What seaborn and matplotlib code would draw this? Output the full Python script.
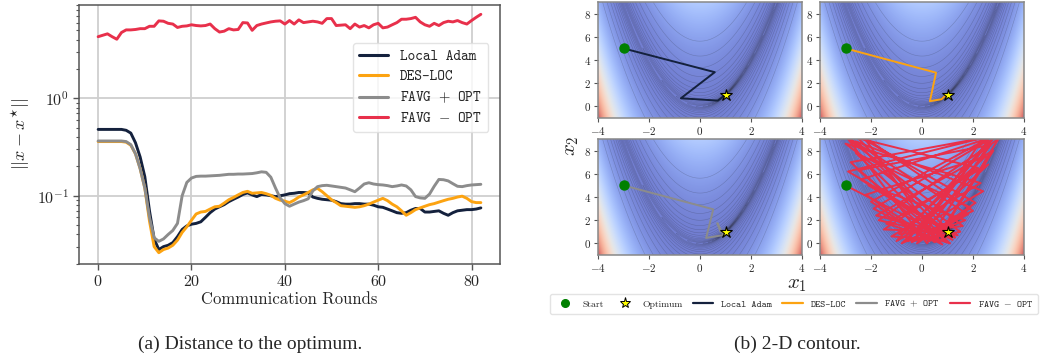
import numpy as np
import pandas as pd
import matplotlib
matplotlib.use("Agg")
import matplotlib.pyplot as plt
import seaborn as sns
from matplotlib.lines import Line2D
from matplotlib.ticker import NullFormatter

# ---------------- data: distance to optimum ----------------
rounds = list(range(83))
local_adam = [0.48, 0.48, 0.48, 0.48, 0.48, 0.48, 0.47, 0.44, 0.35, 0.25,
              0.157, 0.07, 0.036, 0.028, 0.030, 0.031, 0.033, 0.038, 0.045, 0.049,
              0.051, 0.052, 0.054, 0.060, 0.067, 0.073, 0.077, 0.081, 0.087, 0.092,
              0.097, 0.103, 0.107, 0.102, 0.098, 0.103, 0.102, 0.100, 0.098, 0.100,
              0.102, 0.105, 0.106, 0.108, 0.108, 0.107, 0.097, 0.094, 0.092, 0.091,
              0.090, 0.087, 0.083, 0.082, 0.082, 0.083, 0.083, 0.082, 0.082, 0.080,
              0.077, 0.076, 0.073, 0.070, 0.067, 0.066, 0.067, 0.071, 0.074, 0.074,
              0.068, 0.068, 0.069, 0.070, 0.066, 0.063, 0.067, 0.070, 0.071, 0.072,
              0.072, 0.073, 0.075]
des_loc = [0.36, 0.36, 0.36, 0.36, 0.36, 0.36, 0.355, 0.33, 0.27, 0.19,
           0.12, 0.055, 0.030, 0.026, 0.028, 0.029, 0.031, 0.035, 0.042, 0.048,
           0.056, 0.065, 0.068, 0.069, 0.073, 0.077, 0.078, 0.084, 0.091, 0.096,
           0.102, 0.108, 0.111, 0.106, 0.107, 0.108, 0.105, 0.101, 0.094, 0.090,
           0.088, 0.085, 0.090, 0.097, 0.102, 0.108, 0.115, 0.119, 0.110, 0.100,
           0.091, 0.085, 0.079, 0.078, 0.077, 0.076, 0.077, 0.079, 0.082, 0.086,
           0.090, 0.094, 0.089, 0.082, 0.077, 0.070, 0.063, 0.067, 0.072, 0.075,
           0.078, 0.081, 0.083, 0.086, 0.089, 0.092, 0.094, 0.097, 0.099, 0.094,
           0.087, 0.085, 0.085]
favg_opt = [0.365, 0.365, 0.365, 0.365, 0.365, 0.365, 0.36, 0.335, 0.27, 0.19,
            0.12, 0.06, 0.037, 0.034, 0.036, 0.040, 0.044, 0.052, 0.100, 0.137,
            0.152, 0.158, 0.159, 0.159, 0.160, 0.161, 0.162, 0.164, 0.166, 0.166,
            0.167, 0.167, 0.168, 0.169, 0.172, 0.176, 0.174, 0.155, 0.120, 0.095,
            0.083, 0.078, 0.082, 0.086, 0.089, 0.093, 0.112, 0.124, 0.127, 0.128,
            0.126, 0.124, 0.122, 0.120, 0.115, 0.110, 0.120, 0.132, 0.136, 0.132,
            0.130, 0.129, 0.127, 0.124, 0.126, 0.129, 0.126, 0.115, 0.098, 0.095,
            0.094, 0.104, 0.125, 0.147, 0.146, 0.142, 0.133, 0.125, 0.124, 0.127,
            0.129, 0.130, 0.131]
favg_no_opt = [4.3, 4.45, 4.6, 4.3, 4.05, 4.75, 5.05, 5.05, 5.1, 5.2,
               5.2, 5.5, 5.5, 6.25, 6.2, 5.9, 5.8, 5.35, 5.5, 5.55,
               5.7, 5.6, 5.55, 5.6, 5.8, 5.2, 4.8, 4.9, 5.2, 5.05,
               5.1, 6.0, 5.95, 5.0, 5.6, 5.8, 5.95, 6.1, 6.2, 6.25,
               5.8, 6.3, 5.8, 6.4, 6.0, 6.1, 6.2, 6.1, 5.9, 6.6,
               6.6, 5.6, 5.65, 5.7, 5.2, 5.8, 5.4, 5.6, 5.3, 5.7,
               5.9, 5.3, 5.4, 5.7, 6.0, 6.5, 6.5, 6.6, 6.8, 6.1,
               5.7, 5.5, 5.9, 5.6, 6.0, 6.2, 6.1, 6.3, 6.0, 5.8,
               6.3, 6.8, 7.3]

series_names = ["Local Adam", "DES-LOC", "FAVG $+$ OPT", "FAVG $-$ OPT"]
series_colors = ["#14213d", "#fca311", "#8c8c8c", "#e8304b"]

# ---------------- data: 2-D trajectories ----------------
start_pt = [-3.0, 5.0]
optimum_pt = [1.0, 1.0]
traj_local_x = [-3.0, 0.58, -0.75, 0.70, 1.0]
traj_local_y = [5.0, 2.95, 0.70, 0.50, 1.0]
traj_des_x = [-3.0, 0.55, 0.31, 0.77, 0.90, 1.0]
traj_des_y = [5.0, 2.91, 0.45, 0.62, 0.90, 1.0]
traj_favg_x = [-3.0, 0.52, 0.24, 0.92, 0.68, 0.80, 1.0]
traj_favg_y = [5.0, 2.94, 0.47, 0.72, 1.75, 1.0, 1.0]
traj_nofavg_x = [-3.0, 1.2, -2.6, 2.4, -1.0, 2.9, -2.8, 0.8, -1.9, 2.6,
                 -0.4, 1.8, -3.1, 2.2, -1.5, 1.0, -2.4, 2.8, 0.2, -2.9,
                 1.6, -0.9, 2.5, -2.2, 0.5, 3.0, -1.7, 1.3, -2.7, 2.1,
                 -0.2, 2.7, -2.5, 0.9, -1.2, 2.3, -3.0, 1.5, -0.6, 2.9,
                 -2.0, 0.3, 1.9, -2.6, 1.1, -1.4, 2.6, -0.8, 2.0, -2.3,
                 0.6, 2.8, -1.8, 1.4, -2.9, 2.4, -0.3, 1.7, -2.1, 1.0]
traj_nofavg_y = [5.0, 0.3, 8.8, 4.5, 0.2, 9.3, 7.0, -0.1, 3.0, 8.9,
                 0.1, 2.5, 9.4, 6.5, 1.2, 1.0, 5.5, 9.2, 0.0, 9.0,
                 1.5, 0.8, 7.5, 4.2, 0.1, 9.0, 2.0, 0.5, 9.5, 3.5,
                 0.0, 8.5, 6.3, 0.3, 0.6, 5.2, 8.6, 1.0, 0.2, 9.4,
                 3.6, 0.2, 3.1, 7.8, 0.0, 1.7, 6.8, 0.0, 2.8, 9.2,
                 0.4, 8.0, 2.4, 0.7, 6.2, 9.1, 0.3, 2.0, 5.0, 1.0]

# ---------------- style ----------------
sns.set_theme(style="whitegrid")
plt.rcParams.update({
    "font.family": ["cmr10", "DejaVu Serif"],
    "mathtext.fontset": "cm",
    "axes.formatter.use_mathtext": True,
    "axes.edgecolor": "#555555",
    "axes.linewidth": 1.1,
})

fig = plt.figure(figsize=(10.47, 3.58), dpi=100)
W, H = 1047.0, 358.0

def frac_box(x0, y0, x1, y1):
    return [x0 / W, 1 - y1 / H, (x1 - x0) / W, (y1 - y0) / H]

# ---------------- left panel ----------------
ax = fig.add_axes(frac_box(79, 5, 500, 264))
df = pd.DataFrame({
    "round": rounds * 4,
    "dist": local_adam + des_loc + favg_opt + favg_no_opt,
    "method": sum([[n] * len(rounds) for n in series_names], []),
})
sns.lineplot(data=df, x="round", y="dist", hue="method", hue_order=series_names,
             palette=series_colors, lw=2.1, ax=ax, legend=False)
ax.set_yscale("log")
ax.set_ylim(0.0199, 9.1)
ax.set_xlim(-4.1, 86.1)
ax.set_xticks([0, 20, 40, 60, 80])
ax.yaxis.set_minor_formatter(NullFormatter())
ax.grid(True, which="major", color="#cfcfcf", lw=1.3)
ax.grid(False, which="minor")
ax.tick_params(axis="both", which="major", labelsize=11.5, direction="out",
               length=4, width=1, color="#555555", left=True, bottom=True, pad=3)
ax.tick_params(axis="y", which="minor", direction="out", length=2.5, width=0.8,
               color="#555555", left=True)
ax.set_xlabel("Communication Rounds", fontsize=12, labelpad=2)
ax.set_ylabel(r"$||x-x^{\star}||$", fontsize=13, labelpad=4)
handles = [Line2D([], [], color=c, lw=2.2) for c in series_colors]
leg = ax.legend(handles, series_names, loc="upper right", bbox_to_anchor=(0.99, 0.88),
                prop={"family": "cmtt10", "size": 10.5}, frameon=True, handlelength=2.0,
                borderpad=0.45, labelspacing=0.4, handletextpad=0.8)
leg.get_frame().set_edgecolor("#dddddd")

# ---------------- right panels ----------------
gx = np.linspace(-4, 4, 400)
gy = np.linspace(-1, 9, 400)
XX, YY = np.meshgrid(gx, gy)
ZZ = (1 - XX) ** 2 + 100 * (YY - XX ** 2) ** 2
levels = np.logspace(-1, 3.5, 21)

boxes = [frac_box(598, 2, 802, 118), frac_box(820, 2, 1024, 118),
         frac_box(598, 139, 802, 255), frac_box(820, 139, 1024, 255)]
trajs = [(traj_local_x, traj_local_y), (traj_des_x, traj_des_y),
         (traj_favg_x, traj_favg_y), (traj_nofavg_x, traj_nofavg_y)]

for box, (tx, ty), col in zip(boxes, trajs, series_colors):
    a = fig.add_axes(box)
    a.imshow(ZZ, extent=[-4, 4, -1, 9], origin="lower", cmap="coolwarm",
             alpha=0.72, aspect="auto", interpolation="bilinear")
    a.contour(XX, YY, ZZ, levels=levels, colors="k", linewidths=0.4, alpha=0.22)
    sns.lineplot(x=tx, y=ty, sort=False, estimator=None, color=col, lw=1.4, ax=a)
    a.plot([start_pt[0]], [start_pt[1]], "o", color="green", ms=6.5, zorder=5)
    a.plot([optimum_pt[0]], [optimum_pt[1]], "*", mfc="yellow", mec="black",
           mew=0.8, ms=9, zorder=6)
    a.set_xlim(-4, 4)
    a.set_ylim(-1, 9)
    a.set_xticks([-4, -2, 0, 2, 4])
    a.set_yticks([0, 2, 4, 6, 8])
    a.grid(False)
    a.tick_params(labelsize=8, direction="out", length=3, width=0.8, color="#555555",
                  left=True, bottom=True, pad=2)
    for s in a.spines.values():
        s.set_edgecolor("#888888")

fig.text(797 / W, 1 - 285 / H, r"$x_1$", fontsize=15, ha="center", va="center")
fig.text(572 / W, 1 - 146 / H, r"$x_2$", fontsize=15, ha="center", va="center", rotation=90)

leg_handles = [
    Line2D([], [], marker="o", color="green", ls="", ms=5.5),
    Line2D([], [], marker="*", mfc="yellow", mec="black", mew=0.7, ls="", ms=8),
] + [Line2D([], [], color=c, lw=1.6) for c in series_colors]
leg_labels = ["Start", "Optimum"] + series_names
bl = fig.legend(leg_handles, leg_labels, loc="center", bbox_to_anchor=(794 / W, 1 - 304 / H),
                ncol=6, fontsize=7, frameon=True, handlelength=2.1, columnspacing=1.05,
                handletextpad=0.8, borderpad=0.45)
bl.get_frame().set_edgecolor("#dddddd")
for t in bl.get_texts()[2:]:
    t.set_fontfamily("cmtt10")

# ---------------- captions ----------------
fig.text(250 / W, 1 - 344 / H, "(a) Distance to the optimum.", ha="center", va="center",
         family="Liberation Serif", fontsize=14)
fig.text(797 / W, 1 - 344 / H, "(b) 2-D contour.", ha="center", va="center",
         family="Liberation Serif", fontsize=14)

fig.savefig("out.png", dpi=100)
